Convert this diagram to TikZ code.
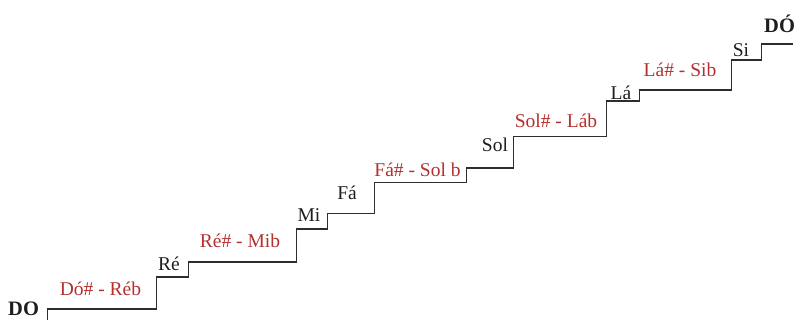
\documentclass[tikz,border=0pt]{standalone}
\usepackage{fontspec}
\setmainfont{Liberation Serif}
\definecolor{stairgray}{RGB}{45,45,45}
\definecolor{natural}{RGB}{30,30,30}
\definecolor{accidental}{RGB}{180,48,48}
\begin{document}
\begin{tikzpicture}[x=1pt,y=-1pt,
  stairline/.style={draw=stairgray, line width=1.1pt},
  natnote/.style={anchor=base, inner sep=0pt, text=natural,
    font=\fontsize{19.5}{20}\selectfont},
  sharpnote/.style={natnote, text=accidental},
  tonic/.style={anchor=base west, inner sep=0pt, text=natural,
    font=\fontsize{20.5}{22}\selectfont\bfseries}]
\useasboundingbox (0,0) rectangle (795,320);

% the staircase: each |- climbs a riser, then runs along the next tread
\draw[stairline] (47.7,322) |- (156.7,309) |- (188.3,277) |- (296.7,262)
  |- (327.5,229) |- (374.3,213.3) |- (466.7,182.7) |- (513.3,168)
  |- (606.7,136.7) |- (639.3,101) |- (731.7,90) |- (761.7,60) |- (793,44);

% note names on the steps
\node[tonic]     (do1)  at (8,316)     {DO};
\node[sharpnote] (dos)  at (100.5,295) {Dó\# - Réb};
\node[natnote]   (re)   at (169,271)   {Ré};
\node[sharpnote] (res)  at (240,248)   {Ré\# - Mib};
\node[natnote]   (mi)   at (309,222)   {Mi};
\node[natnote]   (fa)   at (347,200)   {Fá};
\node[sharpnote] (fas)  at (417.5,177) {Fá\# - Sol b};
\node[natnote]   (sol)  at (495,152)   {Sol};
\node[sharpnote] (sols) at (556,128)   {Sol\# - Láb};
\node[natnote]   (la)   at (621,100)   {Lá};
\node[sharpnote] (las)  at (680,77)    {Lá\# - Sib};
\node[natnote]   (si)   at (741,57)    {Si};
\node[tonic]     (do2)  at (764,33)    {DÓ};
\end{tikzpicture}
\end{document}
